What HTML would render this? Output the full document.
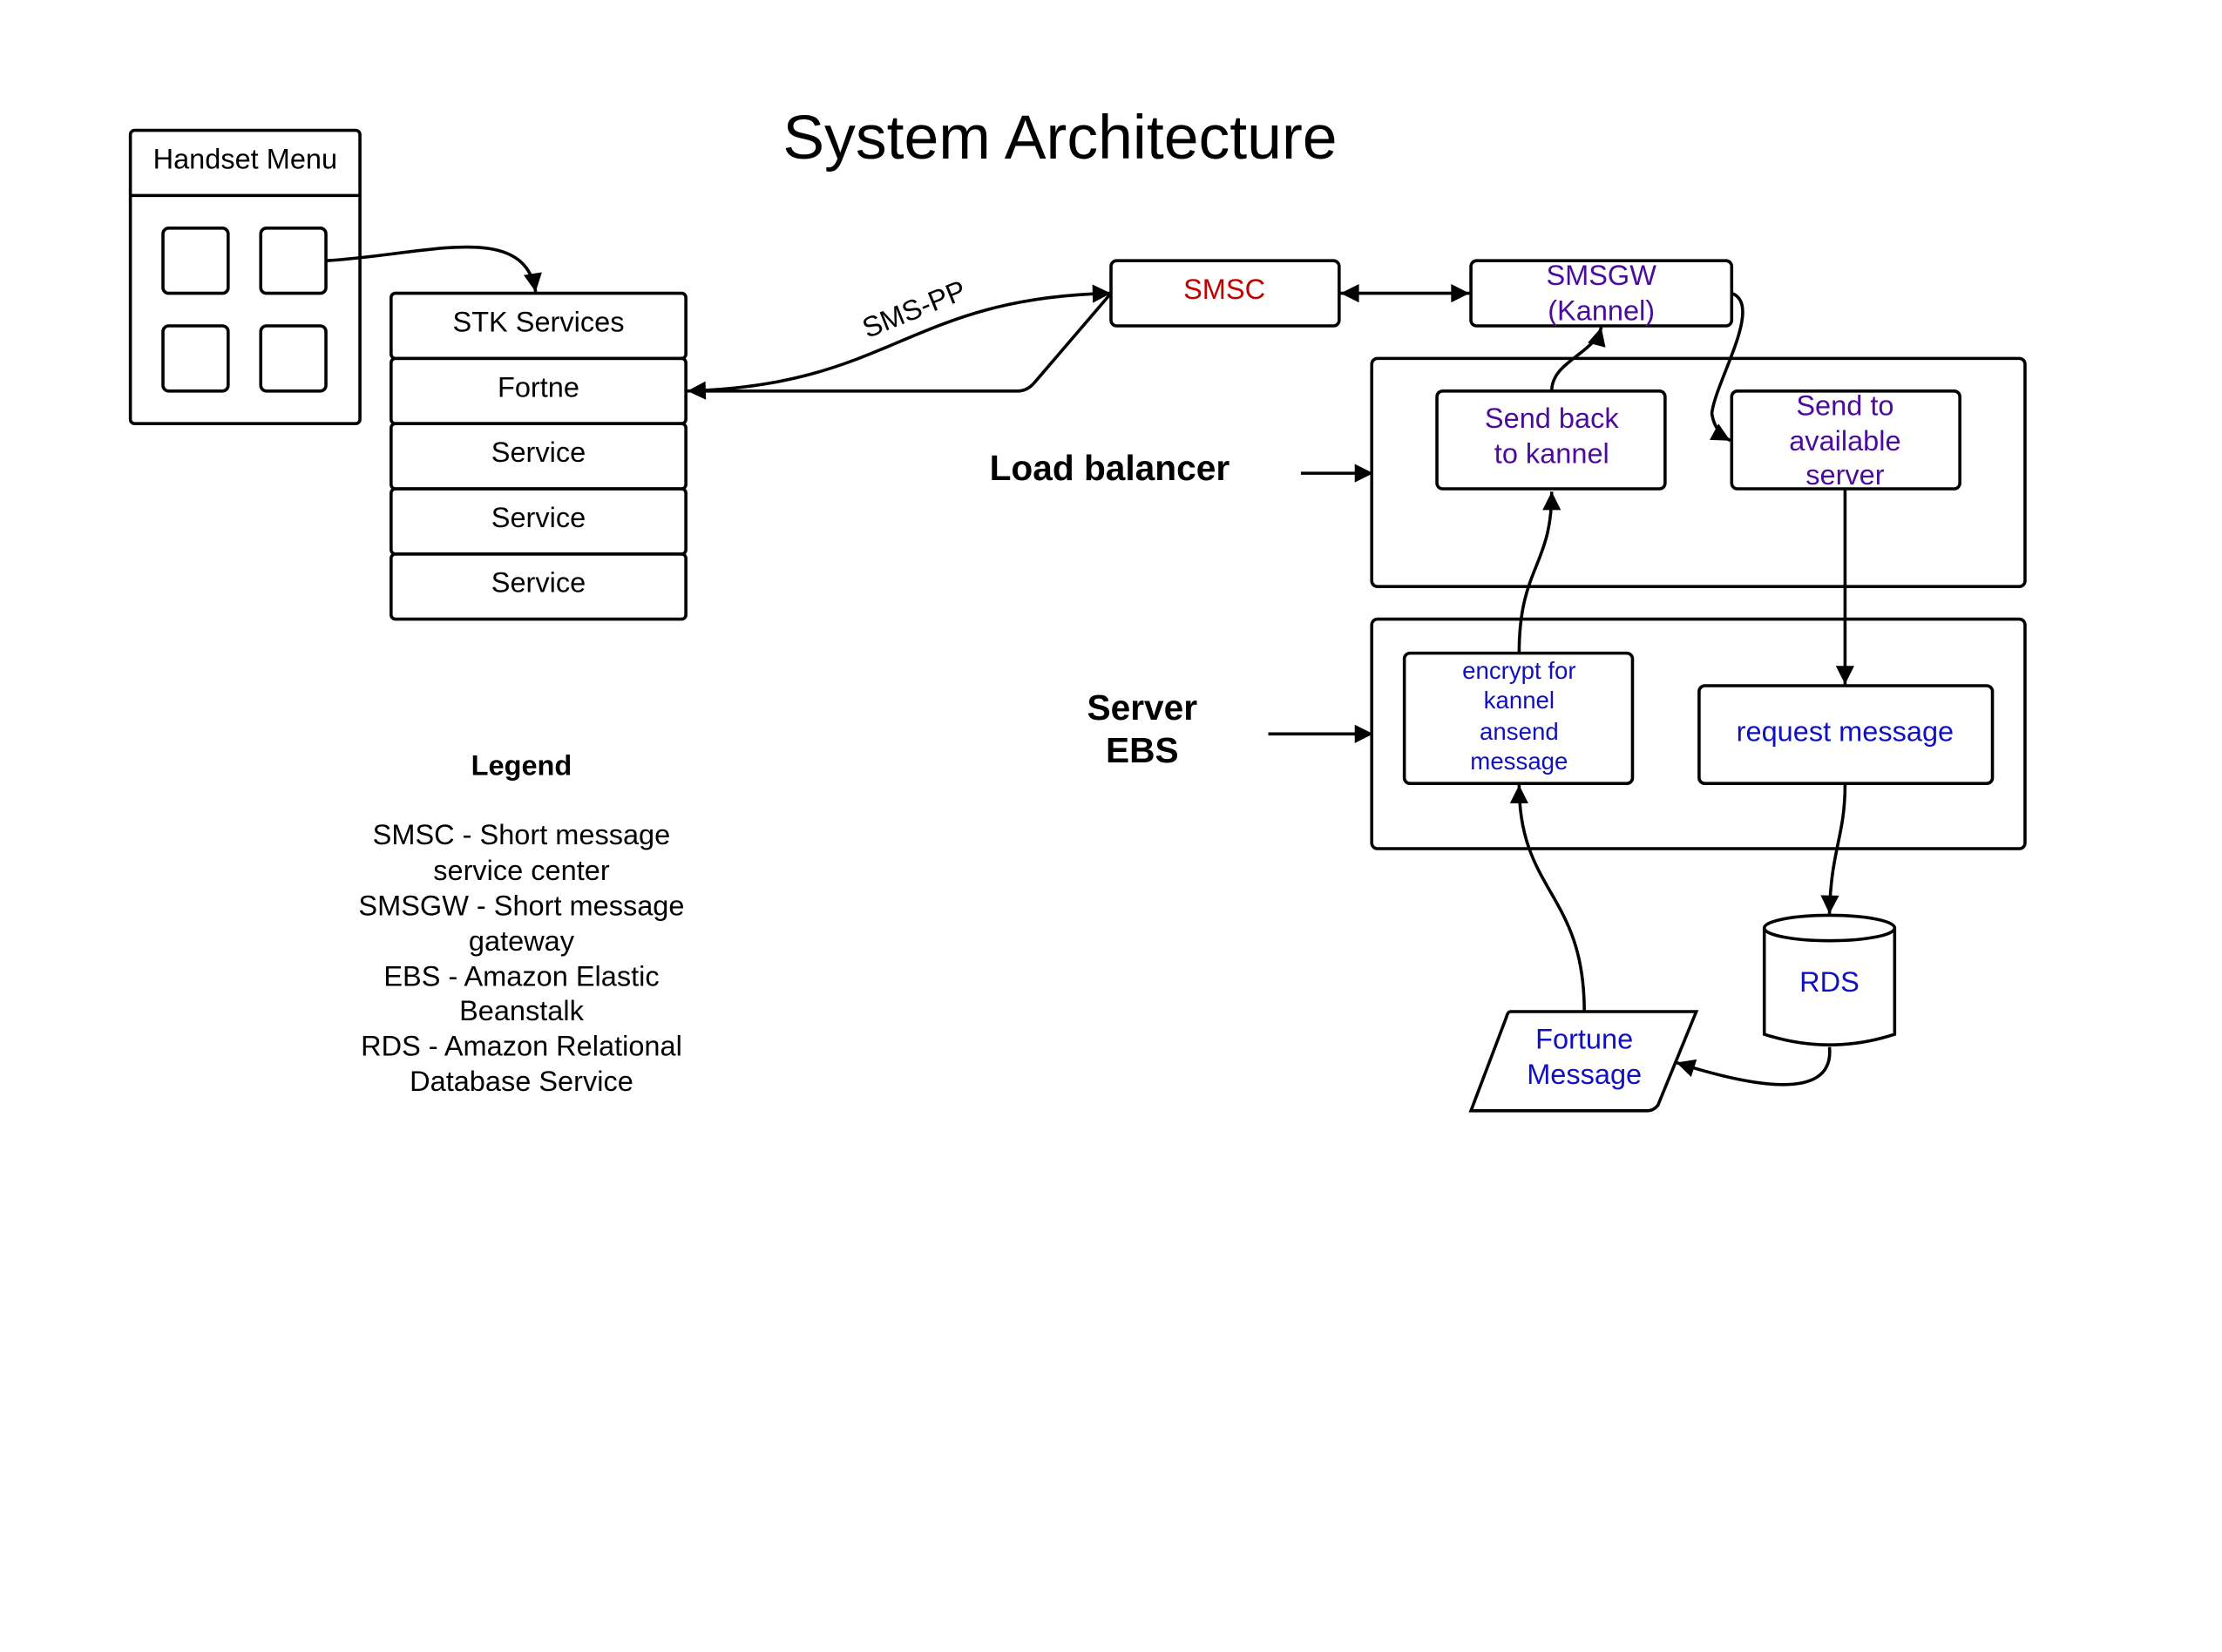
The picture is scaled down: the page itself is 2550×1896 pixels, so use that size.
<!DOCTYPE html>
<html><head><meta charset="utf-8"><style>
html,body{margin:0;padding:0;background:#fff;}
svg{display:block;}
text{font-family:"Liberation Sans",sans-serif;}
</style></head><body>
<svg width="2550" height="1896" viewBox="0 0 1568 1166" preserveAspectRatio="none" xmlns="http://www.w3.org/2000/svg">
<defs>
<marker id="b" viewBox="0 0 10 10" refX="10" refY="5" markerWidth="16" markerHeight="13" orient="auto-start-reverse" markerUnits="userSpaceOnUse">
<path d="M0,0 L10,5 L0,10 z" fill="#000"/></marker>
</defs>
<g fill="none" stroke="#000" stroke-width="2.2">
<rect x="92" y="92" width="162" height="207" rx="3"/>
<line x1="92" y1="138" x2="254" y2="138"/>
<rect x="115" y="161" width="46" height="46" rx="4"/>
<rect x="184" y="161" width="46" height="46" rx="4"/>
<rect x="115" y="230" width="46" height="46" rx="4"/>
<rect x="184" y="230" width="46" height="46" rx="4"/>
<rect x="276" y="207" width="208" height="46" rx="3"/>
<rect x="276" y="253" width="208" height="46" rx="3"/>
<rect x="276" y="299" width="208" height="46" rx="3"/>
<rect x="276" y="345" width="208" height="46" rx="3"/>
<rect x="276" y="391" width="208" height="46" rx="3"/>
<rect x="784" y="184" width="161" height="46" rx="4"/>
<rect x="1038" y="184" width="184" height="46" rx="4"/>
<rect x="968" y="253" width="461" height="161" rx="4"/>
<rect x="1014" y="276" width="161" height="69" rx="4"/>
<rect x="1222" y="276" width="161" height="69" rx="4"/>
<rect x="968" y="437" width="461" height="162" rx="4"/>
<rect x="991" y="461" width="161" height="92" rx="4"/>
<rect x="1199" y="484" width="207" height="69" rx="4"/>
<path d="M1245,655 L1245,730 Q1291,745 1337,730 L1337,655"/>
<ellipse cx="1291" cy="655" rx="46" ry="9"/>
<path d="M1066,714 L1197,714 L1170,780 Q1167,784 1162,784 L1038,784 L1063,718 Q1064,714 1066,714 Z"/>
<path d="M230,184 C300,180 370,155 378,206" marker-end="url(#b)"/>
<path d="M784,207 C640,210 630,272 485,276" marker-start="url(#b)" marker-end="url(#b)"/>
<path d="M784,207 L730,270 Q725,276 718,276 L490,276"/>
<path d="M946,207 L1037,207" marker-start="url(#b)" marker-end="url(#b)"/>
<path d="M1095,276 C1095,255 1125,250 1130,231" marker-end="url(#b)"/>
<path d="M1222,207 C1245,215 1210,270 1208,292 Q1210,305 1221,311" marker-end="url(#b)"/>
<path d="M1302,346 L1302,483" marker-end="url(#b)"/>
<path d="M1072,461 C1072,400 1095,400 1095,347" marker-end="url(#b)"/>
<path d="M1302,554 C1302,590 1292,600 1291,645" marker-end="url(#b)"/>
<path d="M1291,739 C1295,780 1230,765 1183,750" marker-end="url(#b)"/>
<path d="M1118,714 C1118,630 1072,630 1072,554" marker-end="url(#b)"/>
<path d="M918,334 L969,334" marker-end="url(#b)"/>
<path d="M895,518 L969,518" marker-end="url(#b)"/>
</g>
<g text-anchor="middle" font-size="20">
<text x="748" y="112" font-size="44">System Architecture</text>
<text x="173" y="119">Handset Menu</text>
<text x="380" y="234">STK Services</text>
<text x="380" y="280">Fortne</text>
<text x="380" y="326">Service</text>
<text x="380" y="372">Service</text>
<text x="380" y="418">Service</text>
<text x="645" y="225" transform="rotate(-22 645 218)">SMS-PP</text>
<text x="864" y="211" fill="#c00000">SMSC</text>
<text x="1130" y="201" fill="#4b0c9e">SMSGW</text>
<text x="1130" y="226" fill="#4b0c9e">(Kannel)</text>
<text x="1095" y="302" fill="#4b0c9e">Send back</text>
<text x="1095" y="327" fill="#4b0c9e">to kannel</text>
<text x="1302" y="293" fill="#4b0c9e">Send to</text>
<text x="1302" y="318" fill="#4b0c9e">available</text>
<text x="1302" y="342" fill="#4b0c9e">server</text>
<text x="783" y="339" font-size="25" font-weight="bold">Load balancer</text>
<text x="806" y="508" font-size="25" font-weight="bold">Server</text>
<text x="806" y="538" font-size="25" font-weight="bold">EBS</text>
<g fill="#1010c0" font-size="17">
<text x="1072" y="479">encrypt for</text>
<text x="1072" y="500">kannel</text>
<text x="1072" y="522">ansend</text>
<text x="1072" y="543">message</text>
</g>
<text x="1302" y="523" fill="#1010c0">request message</text>
<text x="1291" y="700" fill="#1010c0">RDS</text>
<text x="1118" y="740" fill="#1010c0">Fortune</text>
<text x="1118" y="765" fill="#1010c0">Message</text>
<text x="368" y="547" font-weight="bold">Legend</text>
<text x="368" y="596">SMSC - Short message</text>
<text x="368" y="621">service center</text>
<text x="368" y="646">SMSGW - Short message</text>
<text x="368" y="671">gateway</text>
<text x="368" y="696">EBS - Amazon Elastic</text>
<text x="368" y="720">Beanstalk</text>
<text x="368" y="745">RDS - Amazon Relational</text>
<text x="368" y="770">Database Service</text>
</g>
</svg>
</body></html>
